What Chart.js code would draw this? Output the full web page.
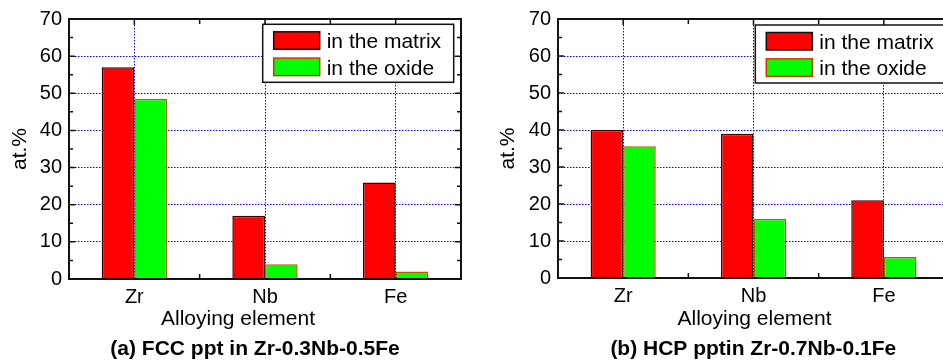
<!DOCTYPE html>
<html>
<head>
<meta charset="utf-8">
<script src="https://cdn.jsdelivr.net/npm/chart.js@4.4.1/dist/chart.umd.min.js"></script>
<style>
  html, body { margin: 0; padding: 0; background: #fff; overflow: hidden; width: 943px; height: 364px; }
  .panel { position: absolute; top: 0; }
</style>
</head>
<body>
<canvas id="fcc" class="panel" width="480" height="364" style="left:0px"></canvas>
<canvas id="hcp" class="panel" width="480" height="364" style="left:480px"></canvas>
<script>
// data
const categories = ['Zr', 'Nb', 'Fe'];
const seriesNames = ['in the matrix', 'in the oxide'];
const fccMatrix = [57, 17, 26];
const fccOxide = [48.5, 4, 2];
const hcpMatrix = [40, 39, 21];
const hcpOxide = [35.6, 16, 5.7];
const yMin = 0, yMax = 70, yStep = 10;
const xTitle = 'Alloying element';
const yTitle = 'at.%';
const captions = ['(a) FCC ppt in Zr-0.3Nb-0.5Fe', '(b) HCP pptin Zr-0.7Nb-0.1Fe'];

const FONT = '"Liberation Sans", Arial, sans-serif';
Chart.defaults.font.family = FONT;
Chart.defaults.color = '#000';

// black box round the plot with inward ticks
const framePlugin = {
  id: 'frame',
  afterDatasetsDraw(chart) {
    const { ctx, chartArea: a, scales: { x, y } } = chart;
    ctx.save();
    ctx.strokeStyle = '#111';
    ctx.lineWidth = 2;
    ctx.strokeRect(a.left, a.top, a.right - a.left, a.bottom - a.top);
    ctx.lineWidth = 1.5;
    ctx.beginPath();
    for (let v = yMin; v <= yMax; v += yStep / 2) {
      const py = y.getPixelForValue(v);
      const len = v % yStep === 0 ? 6 : 4;
      ctx.moveTo(a.left, py); ctx.lineTo(a.left + len, py);
      ctx.moveTo(a.right, py); ctx.lineTo(a.right - len, py);
    }
    for (let i = 0; i < categories.length; i++) {
      const px = x.getPixelForValue(i);
      ctx.moveTo(px, a.top); ctx.lineTo(px, a.top + 6);
      if (i < categories.length - 1) {
        const bx = (px + x.getPixelForValue(i + 1)) / 2;
        ctx.moveTo(bx, a.top); ctx.lineTo(bx, a.top + 5);
        ctx.moveTo(bx, a.bottom); ctx.lineTo(bx, a.bottom - 5);
      }
    }
    ctx.stroke();
    ctx.restore();
  }
};

// legend drawn inside the plot, in a bordered box
const boxLegend = {
  id: 'boxLegend',
  afterDraw(chart, args, opts) {
    const { ctx, chartArea: a } = chart;
    const w = 191, h = 58;
    const bx = a.left + opts.dx, by = a.top + opts.dy;
    ctx.save();
    ctx.fillStyle = '#fff';
    ctx.fillRect(bx, by, w, h);
    ctx.strokeStyle = '#111';
    ctx.lineWidth = 1.5;
    ctx.strokeRect(bx, by, w, h);
    ctx.font = '21px ' + FONT;
    ctx.textBaseline = 'alphabetic';
    chart.data.datasets.forEach((ds, i) => {
      const sx = bx + 11, sy = by + 7.5 + i * 26.3;
      ctx.fillStyle = ds.backgroundColor;
      ctx.fillRect(sx, sy, 46, 17.5);
      ctx.strokeStyle = opts.swatchBorders[i];
      ctx.lineWidth = 1.5;
      ctx.strokeRect(sx, sy, 46, 17.5);
      ctx.fillStyle = '#000';
      ctx.fillText(ds.label, sx + 53, sy + 16.5);
    });
    ctx.restore();
  }
};

// x axis title and panel caption
const panelText = {
  id: 'panelText',
  afterDraw(chart, args, opts) {
    const ctx = chart.ctx;
    ctx.save();
    ctx.fillStyle = '#000';
    ctx.textAlign = 'center';
    ctx.textBaseline = 'alphabetic';
    ctx.font = '21px ' + FONT;
    ctx.fillText(xTitle, opts.titleX, 325);
    ctx.font = 'bold 21px ' + FONT;
    ctx.fillText(opts.caption, opts.captionX, 355);
    ctx.restore();
  }
};

function makeChart(id, matrix, oxide, cfg) {
  return new Chart(document.getElementById(id), {
    type: 'bar',
    data: {
      labels: categories,
      datasets: [
        { label: seriesNames[0], data: matrix, backgroundColor: '#ff0000', borderColor: '#3a0000', borderWidth: 1.5 },
        { label: seriesNames[1], data: oxide, backgroundColor: '#00ff00', borderColor: '#b85c00', borderWidth: 1.5 }
      ]
    },
    plugins: [framePlugin, boxLegend, panelText],
    options: {
      responsive: false,
      animation: false,
      devicePixelRatio: 1,
      layout: { padding: { left: 0, top: cfg.top, right: cfg.right, bottom: 0 } },
      datasets: { bar: { categoryPercentage: 0.5, barPercentage: 1 } },
      plugins: {
        legend: { display: false },
        tooltip: { enabled: false },
        boxLegend: { dx: cfg.legendDx, dy: cfg.legendDy, swatchBorders: ['#111', '#e03000'] },
        panelText: { titleX: cfg.titleX, captionX: cfg.captionX, caption: cfg.caption }
      },
      scales: {
        x: {
          grid: { offset: false, color: '#0000ff', lineWidth: 1, drawTicks: false },
          border: { display: false, dash: [1.5, 1.5] },
          ticks: { font: { size: 20 }, padding: 6, maxRotation: 0 },
          afterFit(s) { s.height = 364 - cfg.bottom; }
        },
        y: {
          min: yMin, max: yMax,
          grid: { color: '#0000ff', lineWidth: 1, drawTicks: false },
          border: { display: false, dash: [1.5, 1.5] },
          ticks: { stepSize: yStep, font: { size: 20 }, padding: 7 },
          title: { display: true, text: yTitle, font: { size: 21 }, padding: { top: cfg.yTitlePad, bottom: 0 } },
          afterFit(s) { s.width = cfg.plotLeft; }
        }
      }
    }
  });
}

makeChart('fcc', fccMatrix, fccOxide, {
  top: 19, right: 19, bottom: 279, plotLeft: 69,
  legendDx: 193.7, legendDy: 5.3, yTitlePad: 7.4,
  titleX: 238, captionX: 255, caption: captions[0]
});
makeChart('hcp', hcpMatrix, hcpOxide, {
  top: 18.3, right: 11, bottom: 278, plotLeft: 78,
  legendDx: 197.3, legendDy: 6, yTitlePad: 15.4,
  titleX: 274.5, captionX: 273.3, caption: captions[1]
});
</script>
</body>
</html>
